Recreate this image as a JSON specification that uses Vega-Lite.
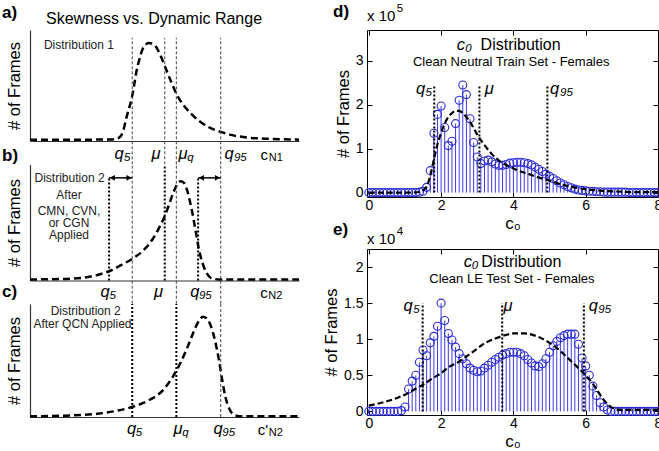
{
"$schema": "https://vega.github.io/schema/vega-lite/v6.json",
"padding": {"left": 2, "top": 2, "right": 0, "bottom": 0},
"config": {"view": {"stroke": null}, "font": "Liberation Sans", "title": {"font": "Liberation Sans", "color": "black"}},
"data": {"values": [
{"p":"a","k":"tag","x":-10.4,"y":115.3,"t":"a)"},{"p":"b","k":"tag","x":-10.4,"y":107.3,"t":"b)"},{"p":"c","k":"tag","x":-10.4,"y":110.6,"t":"c)"},{"p":"d","k":"tag","x":-0.99,"y":4.12,"t":"d)"},{"p":"e","k":"tag","x":-0.99,"y":2.51,"t":"e)"},
{"p":"a","k":"curve","x":0,"y":1.2},{"p":"a","k":"curve","x":10,"y":1.2},{"p":"a","k":"curve","x":20,"y":1.2},{"p":"a","k":"curve","x":30,"y":1.4},{"p":"a","k":"curve","x":33.1,"y":2.9},{"p":"a","k":"curve","x":34.6,"y":8.8},{"p":"a","k":"curve","x":35.8,"y":20.6},{"p":"a","k":"curve","x":36.8,"y":29.4},{"p":"a","k":"curve","x":37.8,"y":38.2},{"p":"a","k":"curve","x":38.7,"y":50},{"p":"a","k":"curve","x":39.5,"y":61.8},{"p":"a","k":"curve","x":40.5,"y":72},{"p":"a","k":"curve","x":41.8,"y":82.4},{"p":"a","k":"curve","x":43,"y":86.8},{"p":"a","k":"curve","x":44.2,"y":88.2},{"p":"a","k":"curve","x":45.5,"y":87.6},{"p":"a","k":"curve","x":46.7,"y":85.3},{"p":"a","k":"curve","x":48.6,"y":76.5},{"p":"a","k":"curve","x":50.1,"y":67.6},{"p":"a","k":"curve","x":52.3,"y":54.4},{"p":"a","k":"curve","x":54.4,"y":42.6},{"p":"a","k":"curve","x":56.6,"y":33.8},{"p":"a","k":"curve","x":59.7,"y":25},{"p":"a","k":"curve","x":62.8,"y":18.2},{"p":"a","k":"curve","x":66.5,"y":12.4},{"p":"a","k":"curve","x":70.9,"y":8.2},{"p":"a","k":"curve","x":75.2,"y":5.3},{"p":"a","k":"curve","x":81.4,"y":2.9},{"p":"a","k":"curve","x":87.6,"y":2.1},{"p":"a","k":"curve","x":100,"y":1.2},
{"p":"a","k":"vref","x":38,"y":-21,"y2":93},{"p":"a","k":"vref","x":50.1,"y":-21,"y2":93},{"p":"a","k":"vref","x":54.4,"y":-21,"y2":93},{"p":"a","k":"vref","x":70.9,"y":-21,"y2":93},
{"p":"a","k":"head","x":46.1,"y":110,"t":"Skewness vs. Dynamic Range"},
{"p":"a","k":"note","x":18.2,"y":86.8,"t":"Distribution 1"},
{"p":"a","k":"sym","x":33.1,"y":-11.5,"t":"q"},{"p":"a","k":"sub","x":34.9,"y":-11.5,"t":"5"},
{"p":"a","k":"sym","x":46.8,"y":-11.5,"t":"μ"},
{"p":"a","k":"sym","x":56.9,"y":-11.5,"t":"μ"},{"p":"a","k":"sub","x":58.5,"y":-11.5,"t":"q"},
{"p":"a","k":"sym","x":74,"y":-11.5,"t":"q"},{"p":"a","k":"sub","x":75.8,"y":-11.5,"t":"95"},
{"p":"a","k":"var","x":87.1,"y":-11.5,"t":"c"},{"p":"a","k":"vsub","x":88.8,"y":-11.5,"t":"N1"},

{"p":"b","k":"curve","x":0,"y":0.9},{"p":"b","k":"curve","x":13.3,"y":1.4},{"p":"b","k":"curve","x":19.5,"y":2.3},{"p":"b","k":"curve","x":25.7,"y":5.2},{"p":"b","k":"curve","x":29.4,"y":8},{"p":"b","k":"curve","x":34.3,"y":13.8},{"p":"b","k":"curve","x":38,"y":18.7},{"p":"b","k":"curve","x":41.8,"y":25.3},{"p":"b","k":"curve","x":45.5,"y":35.3},{"p":"b","k":"curve","x":48,"y":45.4},{"p":"b","k":"curve","x":50.1,"y":55.5},{"p":"b","k":"curve","x":51.7,"y":65.5},{"p":"b","k":"curve","x":53.5,"y":77},{"p":"b","k":"curve","x":55.1,"y":84.2},{"p":"b","k":"curve","x":56.1,"y":85.6},{"p":"b","k":"curve","x":57.2,"y":84.2},{"p":"b","k":"curve","x":58.5,"y":77},{"p":"b","k":"curve","x":60.1,"y":61.2},{"p":"b","k":"curve","x":61.6,"y":42.5},{"p":"b","k":"curve","x":62.8,"y":26.7},{"p":"b","k":"curve","x":64.1,"y":15.2},{"p":"b","k":"curve","x":65.6,"y":6.6},{"p":"b","k":"curve","x":67.2,"y":2.3},{"p":"b","k":"curve","x":70.3,"y":0.9},{"p":"b","k":"curve","x":100,"y":0.9},
{"p":"b","k":"vref","x":38,"y":-20,"y2":100},{"p":"b","k":"vref","x":54.4,"y":-20,"y2":100},{"p":"b","k":"vref","x":70.9,"y":-20,"y2":100},
{"p":"b","k":"vq","x":50.1,"y":0,"y2":100},{"p":"b","k":"vq","x":29.4,"y":0,"y2":88.5},{"p":"b","k":"vq","x":62.5,"y":0,"y2":88.5},
{"p":"b","k":"arrow","x":29.4,"x2":38,"y":88.5},{"p":"b","k":"arrow","x":62.5,"x2":70.9,"y":88.5},
{"p":"b","k":"headL","x":30.6,"y":88.5},{"p":"b","k":"headR","x":36.8,"y":88.5},{"p":"b","k":"headL","x":63.7,"y":88.5},{"p":"b","k":"headR","x":69.7,"y":88.5},
{"p":"b","k":"note","x":14.7,"y":88.5,"t":"Distribution 2"},{"p":"b","k":"note","x":14.5,"y":74.1,"t":"After"},{"p":"b","k":"note","x":14.5,"y":59.8,"t":"CMN, CVN,"},{"p":"b","k":"note","x":14.5,"y":49.7,"t":"or CGN"},{"p":"b","k":"note","x":14.5,"y":38.8,"t":"Applied"},
{"p":"b","k":"sym","x":27.9,"y":-10.3,"t":"q"},{"p":"b","k":"sub","x":29.6,"y":-10.3,"t":"5"},
{"p":"b","k":"sym","x":47.8,"y":-10.3,"t":"μ"},
{"p":"b","k":"sym","x":61.3,"y":-10.3,"t":"q"},{"p":"b","k":"sub","x":62.8,"y":-10.3,"t":"95"},
{"p":"b","k":"var","x":87,"y":-10.3,"t":"c"},{"p":"b","k":"vsub","x":88.6,"y":-10.3,"t":"N2"},

{"p":"c","k":"curve","x":0,"y":0.6},{"p":"c","k":"curve","x":13.3,"y":1.2},{"p":"c","k":"curve","x":25.7,"y":3},{"p":"c","k":"curve","x":31.8,"y":5.3},{"p":"c","k":"curve","x":38,"y":8.9},{"p":"c","k":"curve","x":44.2,"y":14.8},{"p":"c","k":"curve","x":49.2,"y":23.1},{"p":"c","k":"curve","x":52.9,"y":34.9},{"p":"c","k":"curve","x":56,"y":48.2},{"p":"c","k":"curve","x":58.5,"y":61.5},{"p":"c","k":"curve","x":61,"y":76.3},{"p":"c","k":"curve","x":62.8,"y":85.2},{"p":"c","k":"curve","x":64.3,"y":88.8},{"p":"c","k":"curve","x":65.5,"y":87.6},{"p":"c","k":"curve","x":67.2,"y":80.8},{"p":"c","k":"curve","x":68.8,"y":67.5},{"p":"c","k":"curve","x":70.3,"y":49.7},{"p":"c","k":"curve","x":71.5,"y":32},{"p":"c","k":"curve","x":72.7,"y":17.2},{"p":"c","k":"curve","x":74.2,"y":6.8},{"p":"c","k":"curve","x":75.8,"y":1.8},{"p":"c","k":"curve","x":78.9,"y":0.6},{"p":"c","k":"curve","x":100,"y":0.6},
{"p":"c","k":"vq","x":38,"y":0,"y2":100},{"p":"c","k":"vq","x":54.4,"y":0,"y2":100},{"p":"c","k":"vref","x":70.9,"y":0,"y2":100},
{"p":"c","k":"note","x":20.7,"y":94.1,"t":"Distribution 2"},{"p":"c","k":"note","x":19.5,"y":82.2,"t":"After QCN Applied"},
{"p":"c","k":"sym","x":37.8,"y":-10.6,"t":"q"},{"p":"c","k":"sub","x":39.3,"y":-10.6,"t":"5"},
{"p":"c","k":"sym","x":55,"y":-10.6,"t":"μ"},{"p":"c","k":"sub","x":56.6,"y":-10.6,"t":"q"},
{"p":"c","k":"sym","x":69.9,"y":-10.6,"t":"q"},{"p":"c","k":"sub","x":71.5,"y":-10.6,"t":"95"},
{"p":"c","k":"var","x":86.6,"y":-10.6,"t":"c'"},{"p":"c","k":"vsub","x":88.8,"y":-10.6,"t":"N2"},

{"p":"d","k":"stem","x":0,"y":0},{"p":"d","k":"stem","x":0.1,"y":0},{"p":"d","k":"stem","x":0.2,"y":0},{"p":"d","k":"stem","x":0.3,"y":0},{"p":"d","k":"stem","x":0.4,"y":0},{"p":"d","k":"stem","x":0.5,"y":0},{"p":"d","k":"stem","x":0.6,"y":0},{"p":"d","k":"stem","x":0.7,"y":0},{"p":"d","k":"stem","x":0.8,"y":0},{"p":"d","k":"stem","x":0.9,"y":0},{"p":"d","k":"stem","x":1.0,"y":0},{"p":"d","k":"stem","x":1.1,"y":0},{"p":"d","k":"stem","x":1.2,"y":0},{"p":"d","k":"stem","x":1.3,"y":0},{"p":"d","k":"stem","x":1.4,"y":0.01},{"p":"d","k":"stem","x":1.5,"y":0.03},{"p":"d","k":"stem","x":1.6,"y":0.12},{"p":"d","k":"stem","x":1.7,"y":0.5},{"p":"d","k":"stem","x":1.8,"y":1.35},{"p":"d","k":"stem","x":1.9,"y":1.78},{"p":"d","k":"stem","x":2.0,"y":1.97},{"p":"d","k":"stem","x":2.1,"y":1.48},{"p":"d","k":"stem","x":2.2,"y":1.07},{"p":"d","k":"stem","x":2.3,"y":1.17},{"p":"d","k":"stem","x":2.4,"y":1.57},{"p":"d","k":"stem","x":2.5,"y":2.1},{"p":"d","k":"stem","x":2.6,"y":2.45},{"p":"d","k":"stem","x":2.7,"y":2.23},{"p":"d","k":"stem","x":2.8,"y":1.68},{"p":"d","k":"stem","x":2.9,"y":1.14},{"p":"d","k":"stem","x":3.0,"y":0.81},{"p":"d","k":"stem","x":3.1,"y":0.66},{"p":"d","k":"stem","x":3.2,"y":0.72},{"p":"d","k":"stem","x":3.3,"y":0.74},{"p":"d","k":"stem","x":3.4,"y":0.7},{"p":"d","k":"stem","x":3.5,"y":0.65},{"p":"d","k":"stem","x":3.6,"y":0.62},{"p":"d","k":"stem","x":3.7,"y":0.62},{"p":"d","k":"stem","x":3.8,"y":0.64},{"p":"d","k":"stem","x":3.9,"y":0.67},{"p":"d","k":"stem","x":4.0,"y":0.68},{"p":"d","k":"stem","x":4.1,"y":0.69},{"p":"d","k":"stem","x":4.2,"y":0.69},{"p":"d","k":"stem","x":4.3,"y":0.68},{"p":"d","k":"stem","x":4.4,"y":0.66},{"p":"d","k":"stem","x":4.5,"y":0.63},{"p":"d","k":"stem","x":4.6,"y":0.58},{"p":"d","k":"stem","x":4.7,"y":0.53},{"p":"d","k":"stem","x":4.8,"y":0.48},{"p":"d","k":"stem","x":4.9,"y":0.42},{"p":"d","k":"stem","x":5.0,"y":0.37},{"p":"d","k":"stem","x":5.1,"y":0.32},{"p":"d","k":"stem","x":5.2,"y":0.27},{"p":"d","k":"stem","x":5.3,"y":0.22},{"p":"d","k":"stem","x":5.4,"y":0.18},{"p":"d","k":"stem","x":5.5,"y":0.14},{"p":"d","k":"stem","x":5.6,"y":0.11},{"p":"d","k":"stem","x":5.7,"y":0.08},{"p":"d","k":"stem","x":5.8,"y":0.06},{"p":"d","k":"stem","x":5.9,"y":0.05},{"p":"d","k":"stem","x":6.0,"y":0.04},{"p":"d","k":"stem","x":6.1,"y":0.03},{"p":"d","k":"stem","x":6.2,"y":0.03},{"p":"d","k":"stem","x":6.3,"y":0.02},{"p":"d","k":"stem","x":6.4,"y":0.02},{"p":"d","k":"stem","x":6.5,"y":0.01},{"p":"d","k":"stem","x":6.6,"y":0.01},{"p":"d","k":"stem","x":6.7,"y":0.01},{"p":"d","k":"stem","x":6.8,"y":0.01},{"p":"d","k":"stem","x":6.9,"y":0.01},{"p":"d","k":"stem","x":7.0,"y":0.01},{"p":"d","k":"stem","x":7.1,"y":0.01},{"p":"d","k":"stem","x":7.2,"y":0},{"p":"d","k":"stem","x":7.3,"y":0},{"p":"d","k":"stem","x":7.4,"y":0},{"p":"d","k":"stem","x":7.5,"y":0},{"p":"d","k":"stem","x":7.6,"y":0},{"p":"d","k":"stem","x":7.7,"y":0},{"p":"d","k":"stem","x":7.8,"y":0},{"p":"d","k":"stem","x":7.9,"y":0},{"p":"d","k":"stem","x":8.0,"y":0},
{"p":"d","k":"curve","x":0,"y":0},{"p":"d","k":"curve","x":0.5,"y":0},{"p":"d","k":"curve","x":1.0,"y":0},{"p":"d","k":"curve","x":1.3,"y":0.005},{"p":"d","k":"curve","x":1.4,"y":0.02},{"p":"d","k":"curve","x":1.5,"y":0.05},{"p":"d","k":"curve","x":1.6,"y":0.14},{"p":"d","k":"curve","x":1.7,"y":0.38},{"p":"d","k":"curve","x":1.8,"y":0.75},{"p":"d","k":"curve","x":1.9,"y":1.1},{"p":"d","k":"curve","x":2.0,"y":1.36},{"p":"d","k":"curve","x":2.1,"y":1.57},{"p":"d","k":"curve","x":2.2,"y":1.72},{"p":"d","k":"curve","x":2.3,"y":1.81},{"p":"d","k":"curve","x":2.4,"y":1.86},{"p":"d","k":"curve","x":2.5,"y":1.86},{"p":"d","k":"curve","x":2.6,"y":1.81},{"p":"d","k":"curve","x":2.7,"y":1.72},{"p":"d","k":"curve","x":2.8,"y":1.61},{"p":"d","k":"curve","x":2.9,"y":1.47},{"p":"d","k":"curve","x":3.0,"y":1.32},{"p":"d","k":"curve","x":3.2,"y":1.08},{"p":"d","k":"curve","x":3.4,"y":0.88},{"p":"d","k":"curve","x":3.6,"y":0.73},{"p":"d","k":"curve","x":3.8,"y":0.63},{"p":"d","k":"curve","x":4.0,"y":0.55},{"p":"d","k":"curve","x":4.2,"y":0.48},{"p":"d","k":"curve","x":4.4,"y":0.43},{"p":"d","k":"curve","x":4.6,"y":0.37},{"p":"d","k":"curve","x":4.8,"y":0.32},{"p":"d","k":"curve","x":5.0,"y":0.27},{"p":"d","k":"curve","x":5.2,"y":0.22},{"p":"d","k":"curve","x":5.4,"y":0.17},{"p":"d","k":"curve","x":5.6,"y":0.13},{"p":"d","k":"curve","x":5.8,"y":0.1},{"p":"d","k":"curve","x":6.0,"y":0.08},{"p":"d","k":"curve","x":6.2,"y":0.06},{"p":"d","k":"curve","x":6.5,"y":0.04},{"p":"d","k":"curve","x":7.0,"y":0.02},{"p":"d","k":"curve","x":7.5,"y":0.01},{"p":"d","k":"curve","x":8.0,"y":0.01},
{"p":"d","k":"vq","x":1.81,"y":0,"y2":2.45},{"p":"d","k":"vq","x":3.06,"y":0,"y2":2.45},{"p":"d","k":"vq","x":4.94,"y":0,"y2":2.45},
{"p":"d","k":"exp","x":-0.05,"y":4.02,"t":"x 10"},{"p":"d","k":"sup","x":0.77,"y":4.17,"t":"5"},
{"p":"d","k":"sym","x":2.55,"y":3.36,"t":"c"},{"p":"d","k":"sub","x":2.67,"y":3.36,"t":"0"},{"p":"d","k":"head","x":4.2,"y":3.36,"t":"Distribution"},
{"p":"d","k":"subhead","x":3.94,"y":2.97,"t":"Clean Neutral Train Set - Females"},
{"p":"d","k":"sym","x":1.43,"y":2.36,"t":"q"},{"p":"d","k":"sub","x":1.57,"y":2.36,"t":"5"},
{"p":"d","k":"sym","x":3.33,"y":2.36,"t":"μ"},
{"p":"d","k":"sym","x":5.14,"y":2.36,"t":"q"},{"p":"d","k":"sub","x":5.29,"y":2.36,"t":"95"},

{"p":"e","k":"stem","x":0,"y":0},{"p":"e","k":"stem","x":0.1,"y":0},{"p":"e","k":"stem","x":0.2,"y":0},{"p":"e","k":"stem","x":0.3,"y":0},{"p":"e","k":"stem","x":0.4,"y":0},{"p":"e","k":"stem","x":0.5,"y":0},{"p":"e","k":"stem","x":0.6,"y":0},{"p":"e","k":"stem","x":0.7,"y":0},{"p":"e","k":"stem","x":0.8,"y":0},{"p":"e","k":"stem","x":0.9,"y":0.01},{"p":"e","k":"stem","x":1.0,"y":0.06},{"p":"e","k":"stem","x":1.1,"y":0.31},{"p":"e","k":"stem","x":1.2,"y":0.42},{"p":"e","k":"stem","x":1.3,"y":0.5},{"p":"e","k":"stem","x":1.4,"y":0.68},{"p":"e","k":"stem","x":1.5,"y":0.85},{"p":"e","k":"stem","x":1.6,"y":0.77},{"p":"e","k":"stem","x":1.7,"y":0.95},{"p":"e","k":"stem","x":1.8,"y":1.04},{"p":"e","k":"stem","x":1.9,"y":1.18},{"p":"e","k":"stem","x":2.0,"y":1.5},{"p":"e","k":"stem","x":2.1,"y":1.26},{"p":"e","k":"stem","x":2.2,"y":1.08},{"p":"e","k":"stem","x":2.3,"y":0.99},{"p":"e","k":"stem","x":2.4,"y":0.89},{"p":"e","k":"stem","x":2.5,"y":0.8},{"p":"e","k":"stem","x":2.6,"y":0.73},{"p":"e","k":"stem","x":2.7,"y":0.66},{"p":"e","k":"stem","x":2.8,"y":0.6},{"p":"e","k":"stem","x":2.9,"y":0.57},{"p":"e","k":"stem","x":3.0,"y":0.55},{"p":"e","k":"stem","x":3.1,"y":0.56},{"p":"e","k":"stem","x":3.2,"y":0.6},{"p":"e","k":"stem","x":3.3,"y":0.64},{"p":"e","k":"stem","x":3.4,"y":0.68},{"p":"e","k":"stem","x":3.5,"y":0.72},{"p":"e","k":"stem","x":3.6,"y":0.75},{"p":"e","k":"stem","x":3.7,"y":0.78},{"p":"e","k":"stem","x":3.8,"y":0.8},{"p":"e","k":"stem","x":3.9,"y":0.82},{"p":"e","k":"stem","x":4.0,"y":0.82},{"p":"e","k":"stem","x":4.1,"y":0.82},{"p":"e","k":"stem","x":4.2,"y":0.8},{"p":"e","k":"stem","x":4.3,"y":0.77},{"p":"e","k":"stem","x":4.4,"y":0.72},{"p":"e","k":"stem","x":4.5,"y":0.67},{"p":"e","k":"stem","x":4.6,"y":0.63},{"p":"e","k":"stem","x":4.7,"y":0.62},{"p":"e","k":"stem","x":4.8,"y":0.66},{"p":"e","k":"stem","x":4.9,"y":0.73},{"p":"e","k":"stem","x":5.0,"y":0.82},{"p":"e","k":"stem","x":5.1,"y":0.91},{"p":"e","k":"stem","x":5.2,"y":0.97},{"p":"e","k":"stem","x":5.3,"y":1.02},{"p":"e","k":"stem","x":5.4,"y":1.05},{"p":"e","k":"stem","x":5.5,"y":1.07},{"p":"e","k":"stem","x":5.6,"y":1.07},{"p":"e","k":"stem","x":5.7,"y":1.07},{"p":"e","k":"stem","x":5.8,"y":0.93},{"p":"e","k":"stem","x":5.9,"y":0.74},{"p":"e","k":"stem","x":6.0,"y":0.63},{"p":"e","k":"stem","x":6.1,"y":0.5},{"p":"e","k":"stem","x":6.2,"y":0.35},{"p":"e","k":"stem","x":6.3,"y":0.22},{"p":"e","k":"stem","x":6.4,"y":0.12},{"p":"e","k":"stem","x":6.5,"y":0.06},{"p":"e","k":"stem","x":6.6,"y":0.02},{"p":"e","k":"stem","x":6.7,"y":0},{"p":"e","k":"stem","x":6.8,"y":0},{"p":"e","k":"stem","x":6.9,"y":0},{"p":"e","k":"stem","x":7.0,"y":0},{"p":"e","k":"stem","x":7.1,"y":0},{"p":"e","k":"stem","x":7.2,"y":0},{"p":"e","k":"stem","x":7.3,"y":0},{"p":"e","k":"stem","x":7.4,"y":0},{"p":"e","k":"stem","x":7.5,"y":0},{"p":"e","k":"stem","x":7.6,"y":0},{"p":"e","k":"stem","x":7.7,"y":0},{"p":"e","k":"stem","x":7.8,"y":0},{"p":"e","k":"stem","x":7.9,"y":0},{"p":"e","k":"stem","x":8.0,"y":0},
{"p":"e","k":"curve","x":0,"y":0.08},{"p":"e","k":"curve","x":0.5,"y":0.14},{"p":"e","k":"curve","x":0.8,"y":0.19},{"p":"e","k":"curve","x":1.0,"y":0.23},{"p":"e","k":"curve","x":1.28,"y":0.31},{"p":"e","k":"curve","x":1.5,"y":0.37},{"p":"e","k":"curve","x":1.74,"y":0.45},{"p":"e","k":"curve","x":2.0,"y":0.53},{"p":"e","k":"curve","x":2.2,"y":0.61},{"p":"e","k":"curve","x":2.5,"y":0.69},{"p":"e","k":"curve","x":2.67,"y":0.75},{"p":"e","k":"curve","x":3.0,"y":0.87},{"p":"e","k":"curve","x":3.13,"y":0.92},{"p":"e","k":"curve","x":3.5,"y":1.01},{"p":"e","k":"curve","x":3.8,"y":1.06},{"p":"e","k":"curve","x":4.0,"y":1.08},{"p":"e","k":"curve","x":4.3,"y":1.08},{"p":"e","k":"curve","x":4.7,"y":1.03},{"p":"e","k":"curve","x":5.0,"y":0.95},{"p":"e","k":"curve","x":5.17,"y":0.89},{"p":"e","k":"curve","x":5.4,"y":0.79},{"p":"e","k":"curve","x":5.63,"y":0.68},{"p":"e","k":"curve","x":6.0,"y":0.5},{"p":"e","k":"curve","x":6.2,"y":0.38},{"p":"e","k":"curve","x":6.37,"y":0.25},{"p":"e","k":"curve","x":6.5,"y":0.16},{"p":"e","k":"curve","x":6.65,"y":0.08},{"p":"e","k":"curve","x":6.83,"y":0.03},{"p":"e","k":"curve","x":7.0,"y":0.02},{"p":"e","k":"curve","x":8.0,"y":0.02},
{"p":"e","k":"vq","x":1.49,"y":0,"y2":1.5},{"p":"e","k":"vq","x":3.69,"y":0,"y2":1.5},{"p":"e","k":"vq","x":5.95,"y":0,"y2":1.5},
{"p":"e","k":"exp","x":-0.05,"y":2.39,"t":"x 10"},{"p":"e","k":"sup","x":0.77,"y":2.49,"t":"4"},
{"p":"e","k":"sym","x":2.74,"y":2.07,"t":"c"},{"p":"e","k":"sub","x":2.85,"y":2.07,"t":"0"},{"p":"e","k":"head","x":4.22,"y":2.07,"t":"Distribution"},
{"p":"e","k":"subhead","x":3.96,"y":1.84,"t":"Clean LE Test Set - Females"},
{"p":"e","k":"sym","x":1.09,"y":1.46,"t":"q"},{"p":"e","k":"sub","x":1.23,"y":1.46,"t":"5"},
{"p":"e","k":"sym","x":3.85,"y":1.46,"t":"μ"},
{"p":"e","k":"sym","x":6.21,"y":1.46,"t":"q"},{"p":"e","k":"sub","x":6.35,"y":1.46,"t":"95"}
]},
"hconcat": [
{"vconcat": [
 {"width": 269, "height": 111,
  "transform": [{"filter": "datum.p == 'a'"}],
  "resolve": {"axis": {"x": "independent", "y": "independent"}},
  "encoding": {
   "x": {"field": "x", "type": "quantitative", "scale": {"domain": [0,100], "nice": false, "zero": false}, "axis": null},
   "y": {"field": "y", "type": "quantitative", "scale": {"domain": [0,100], "nice": false, "zero": false}, "axis": null}},
  "layer": [
   {"transform": [{"filter": "datum.k == 'curve'"}],
    "mark": {"type": "line", "color": "black", "strokeWidth": 2.5, "strokeDash": [7,4], "interpolate": "monotone"},
    "encoding": {
     "x": {"field": "x", "type": "quantitative", "scale": {"domain": [0,100], "nice": false, "zero": false}, "axis": {"orient": "bottom", "domainColor": "#333", "domainWidth": 1.2, "ticks": false, "labels": false, "grid": false, "title": null}},
     "y": {"field": "y", "type": "quantitative", "scale": {"domain": [0,100], "nice": false, "zero": false}, "axis": {"orient": "left", "domainColor": "#333", "domainWidth": 1.2, "ticks": false, "labels": false, "grid": false, "title": "# of Frames", "titleFontSize": 16.5, "titleFontWeight": "normal", "titleColor": "black", "titlePadding": 8}}}},
   {"transform": [{"filter": "datum.k == 'vref'"}], "mark": {"type": "rule", "color": "#444", "strokeWidth": 1, "strokeDash": [3,2]}, "encoding": {"y2": {"field": "y2"}}},
   {"transform": [{"filter": "datum.k == 'tag'"}], "mark": {"type": "text", "fontSize": 17, "fontWeight": "bold", "align": "left", "baseline": "middle", "color": "black"}, "encoding": {"text": {"field": "t"}}},
   {"transform": [{"filter": "datum.k == 'head'"}], "mark": {"type": "text", "fontSize": 16, "align": "center", "baseline": "middle", "color": "black"}, "encoding": {"text": {"field": "t"}}},
   {"transform": [{"filter": "datum.k == 'note'"}], "mark": {"type": "text", "fontSize": 12, "align": "center", "baseline": "middle", "color": "#222"}, "encoding": {"text": {"field": "t"}}},
   {"transform": [{"filter": "datum.k == 'sym'"}], "mark": {"type": "text", "fontSize": 16.5, "fontStyle": "italic", "align": "center", "baseline": "middle", "color": "black"}, "encoding": {"text": {"field": "t"}}},
   {"transform": [{"filter": "datum.k == 'sub'"}], "mark": {"type": "text", "fontSize": 11.5, "fontStyle": "italic", "align": "left", "baseline": "middle", "dy": 4, "color": "black"}, "encoding": {"text": {"field": "t"}}},
   {"transform": [{"filter": "datum.k == 'var'"}], "mark": {"type": "text", "fontSize": 15, "align": "center", "baseline": "middle", "dy": 1, "color": "black"}, "encoding": {"text": {"field": "t"}}},
   {"transform": [{"filter": "datum.k == 'vsub'"}], "mark": {"type": "text", "fontSize": 11, "align": "left", "baseline": "middle", "dy": 4, "color": "black"}, "encoding": {"text": {"field": "t"}}}
  ]},
 {"width": 269, "height": 116,
  "transform": [{"filter": "datum.p == 'b'"}],
  "resolve": {"axis": {"x": "independent", "y": "independent"}},
  "encoding": {
   "x": {"field": "x", "type": "quantitative", "scale": {"domain": [0,100], "nice": false, "zero": false}, "axis": null},
   "y": {"field": "y", "type": "quantitative", "scale": {"domain": [0,100], "nice": false, "zero": false}, "axis": null}},
  "layer": [
   {"transform": [{"filter": "datum.k == 'curve'"}],
    "mark": {"type": "line", "color": "black", "strokeWidth": 2.5, "strokeDash": [7,4], "interpolate": "monotone"},
    "encoding": {
     "x": {"field": "x", "type": "quantitative", "scale": {"domain": [0,100], "nice": false, "zero": false}, "axis": {"orient": "bottom", "domainColor": "#333", "domainWidth": 1.2, "ticks": false, "labels": false, "grid": false, "title": null}},
     "y": {"field": "y", "type": "quantitative", "scale": {"domain": [0,100], "nice": false, "zero": false}, "axis": {"orient": "left", "domainColor": "#333", "domainWidth": 1.2, "ticks": false, "labels": false, "grid": false, "title": "# of Frames", "titleFontSize": 16.5, "titleFontWeight": "normal", "titleColor": "black", "titlePadding": 8}}}},
   {"transform": [{"filter": "datum.k == 'vref'"}], "mark": {"type": "rule", "color": "#444", "strokeWidth": 1, "strokeDash": [3,2]}, "encoding": {"y2": {"field": "y2"}}},
   {"transform": [{"filter": "datum.k == 'vq'"}], "mark": {"type": "rule", "color": "black", "strokeWidth": 2, "strokeDash": [2,2]}, "encoding": {"y2": {"field": "y2"}}},
   {"transform": [{"filter": "datum.k == 'arrow'"}], "mark": {"type": "rule", "color": "black", "strokeWidth": 1.5}, "encoding": {"x2": {"field": "x2"}}},
   {"transform": [{"filter": "datum.k == 'headL'"}], "mark": {"type": "point", "shape": "triangle-left", "filled": true, "color": "black", "size": 35, "opacity": 1}},
   {"transform": [{"filter": "datum.k == 'headR'"}], "mark": {"type": "point", "shape": "triangle-right", "filled": true, "color": "black", "size": 35, "opacity": 1}},
   {"transform": [{"filter": "datum.k == 'tag'"}], "mark": {"type": "text", "fontSize": 17, "fontWeight": "bold", "align": "left", "baseline": "middle", "color": "black"}, "encoding": {"text": {"field": "t"}}},
   {"transform": [{"filter": "datum.k == 'note'"}], "mark": {"type": "text", "fontSize": 12, "align": "center", "baseline": "middle", "color": "#222"}, "encoding": {"text": {"field": "t"}}},
   {"transform": [{"filter": "datum.k == 'sym'"}], "mark": {"type": "text", "fontSize": 16.5, "fontStyle": "italic", "align": "center", "baseline": "middle", "color": "black"}, "encoding": {"text": {"field": "t"}}},
   {"transform": [{"filter": "datum.k == 'sub'"}], "mark": {"type": "text", "fontSize": 11.5, "fontStyle": "italic", "align": "left", "baseline": "middle", "dy": 4, "color": "black"}, "encoding": {"text": {"field": "t"}}},
   {"transform": [{"filter": "datum.k == 'var'"}], "mark": {"type": "text", "fontSize": 15, "align": "center", "baseline": "middle", "dy": 1, "color": "black"}, "encoding": {"text": {"field": "t"}}},
   {"transform": [{"filter": "datum.k == 'vsub'"}], "mark": {"type": "text", "fontSize": 11, "align": "left", "baseline": "middle", "dy": 4, "color": "black"}, "encoding": {"text": {"field": "t"}}}
  ]},
 {"width": 269, "height": 113,
  "transform": [{"filter": "datum.p == 'c'"}],
  "resolve": {"axis": {"x": "independent", "y": "independent"}},
  "encoding": {
   "x": {"field": "x", "type": "quantitative", "scale": {"domain": [0,100], "nice": false, "zero": false}, "axis": null},
   "y": {"field": "y", "type": "quantitative", "scale": {"domain": [0,100], "nice": false, "zero": false}, "axis": null}},
  "layer": [
   {"transform": [{"filter": "datum.k == 'curve'"}],
    "mark": {"type": "line", "color": "black", "strokeWidth": 2.5, "strokeDash": [7,4], "interpolate": "monotone"},
    "encoding": {
     "x": {"field": "x", "type": "quantitative", "scale": {"domain": [0,100], "nice": false, "zero": false}, "axis": {"orient": "bottom", "domainColor": "#333", "domainWidth": 1.2, "ticks": false, "labels": false, "grid": false, "title": null}},
     "y": {"field": "y", "type": "quantitative", "scale": {"domain": [0,100], "nice": false, "zero": false}, "axis": {"orient": "left", "domainColor": "#333", "domainWidth": 1.2, "ticks": false, "labels": false, "grid": false, "title": "# of Frames", "titleFontSize": 16.5, "titleFontWeight": "normal", "titleColor": "black", "titlePadding": 8}}}},
   {"transform": [{"filter": "datum.k == 'vref'"}], "mark": {"type": "rule", "color": "#444", "strokeWidth": 1, "strokeDash": [3,2]}, "encoding": {"y2": {"field": "y2"}}},
   {"transform": [{"filter": "datum.k == 'vq'"}], "mark": {"type": "rule", "color": "black", "strokeWidth": 2, "strokeDash": [2,2]}, "encoding": {"y2": {"field": "y2"}}},
   {"transform": [{"filter": "datum.k == 'tag'"}], "mark": {"type": "text", "fontSize": 17, "fontWeight": "bold", "align": "left", "baseline": "middle", "color": "black"}, "encoding": {"text": {"field": "t"}}},
   {"transform": [{"filter": "datum.k == 'note'"}], "mark": {"type": "text", "fontSize": 12, "align": "center", "baseline": "middle", "color": "#222"}, "encoding": {"text": {"field": "t"}}},
   {"transform": [{"filter": "datum.k == 'sym'"}], "mark": {"type": "text", "fontSize": 16.5, "fontStyle": "italic", "align": "center", "baseline": "middle", "color": "black"}, "encoding": {"text": {"field": "t"}}},
   {"transform": [{"filter": "datum.k == 'sub'"}], "mark": {"type": "text", "fontSize": 11.5, "fontStyle": "italic", "align": "left", "baseline": "middle", "dy": 4, "color": "black"}, "encoding": {"text": {"field": "t"}}},
   {"transform": [{"filter": "datum.k == 'var'"}], "mark": {"type": "text", "fontSize": 15, "align": "center", "baseline": "middle", "dy": 1, "color": "black"}, "encoding": {"text": {"field": "t"}}},
   {"transform": [{"filter": "datum.k == 'vsub'"}], "mark": {"type": "text", "fontSize": 11, "align": "left", "baseline": "middle", "dy": 4, "color": "black"}, "encoding": {"text": {"field": "t"}}}
  ]}
], "spacing": 23.5, "bounds": "flush"},
{"vconcat": [
 {"width": 291, "height": 167,
  "transform": [{"filter": "datum.p == 'd'"}],
  "resolve": {"axis": {"x": "independent", "y": "independent"}},
  "encoding": {
   "x": {"field": "x", "type": "quantitative", "scale": {"domain": [-0.05,8], "nice": false, "zero": false}, "axis": null},
   "y": {"field": "y", "type": "quantitative", "scale": {"domain": [-0.1,3.7], "nice": false, "zero": false}, "axis": null}},
  "layer": [
   {"transform": [{"filter": "datum.k == 'stem'"}], "mark": {"type": "rule", "color": "#3c3ce6", "strokeWidth": 1},
    "encoding": {
     "x": {"field": "x", "type": "quantitative", "scale": {"domain": [-0.05,8], "nice": false, "zero": false}, "axis": {"orient": "bottom", "values": [0,2,4,6,8], "tickSize": -5, "tickColor": "black", "domainColor": "black", "labelFontSize": 14, "labelColor": "black", "labelPadding": 6, "labelFlush": false, "grid": false, "title": "c₀", "titleFontSize": 17, "titleFontWeight": "normal", "titleColor": "black", "titlePadding": 3}},
     "y": {"field": "y", "type": "quantitative", "scale": {"domain": [-0.1,3.7], "nice": false, "zero": false}, "axis": {"orient": "left", "values": [0,1,2,3], "format": "~g", "tickSize": -5, "tickColor": "black", "domainColor": "black", "labelFontSize": 14, "labelColor": "black", "labelPadding": 9, "grid": false, "title": "# of Frames", "titleFontSize": 16.5, "titleFontWeight": "normal", "titleColor": "black", "titlePadding": 4}},
     "y2": {"datum": 0}}},
   {"transform": [{"filter": "datum.k == 'stem'"}], "mark": {"type": "point", "shape": "circle", "filled": false, "size": 64, "color": "#2a2ad8", "strokeWidth": 1.1, "opacity": 1},
    "encoding": {
     "x": {"field": "x", "type": "quantitative", "scale": {"domain": [-0.05,8], "nice": false, "zero": false}, "axis": {"orient": "top", "values": [0,2,4,6,8], "tickSize": -5, "tickColor": "black", "domainColor": "black", "labels": false, "grid": false, "title": null}},
     "y": {"field": "y", "type": "quantitative", "scale": {"domain": [-0.1,3.7], "nice": false, "zero": false}, "axis": {"orient": "right", "values": [0,1,2,3], "tickSize": -5, "tickColor": "black", "domainColor": "black", "labels": false, "grid": false, "title": null}}}},
   {"transform": [{"filter": "datum.k == 'curve'"}], "mark": {"type": "line", "color": "black", "strokeWidth": 2.2, "strokeDash": [6,3], "interpolate": "monotone"}},
   {"transform": [{"filter": "datum.k == 'vq'"}], "mark": {"type": "rule", "color": "black", "strokeWidth": 2, "strokeDash": [2,2]}, "encoding": {"y2": {"field": "y2"}}},
   {"transform": [{"filter": "datum.k == 'tag'"}], "mark": {"type": "text", "fontSize": 17, "fontWeight": "bold", "align": "left", "baseline": "middle", "color": "black"}, "encoding": {"text": {"field": "t"}}},
   {"transform": [{"filter": "datum.k == 'exp'"}], "mark": {"type": "text", "fontSize": 15, "align": "left", "baseline": "middle", "color": "black"}, "encoding": {"text": {"field": "t"}}},
   {"transform": [{"filter": "datum.k == 'sup'"}], "mark": {"type": "text", "fontSize": 11.5, "align": "left", "baseline": "middle", "color": "black"}, "encoding": {"text": {"field": "t"}}},
   {"transform": [{"filter": "datum.k == 'head'"}], "mark": {"type": "text", "fontSize": 16, "align": "center", "baseline": "middle", "color": "black"}, "encoding": {"text": {"field": "t"}}},
   {"transform": [{"filter": "datum.k == 'subhead'"}], "mark": {"type": "text", "fontSize": 13, "align": "center", "baseline": "middle", "color": "black"}, "encoding": {"text": {"field": "t"}}},
   {"transform": [{"filter": "datum.k == 'sym'"}], "mark": {"type": "text", "fontSize": 16.5, "fontStyle": "italic", "align": "center", "baseline": "middle", "color": "black"}, "encoding": {"text": {"field": "t"}}},
   {"transform": [{"filter": "datum.k == 'sub'"}], "mark": {"type": "text", "fontSize": 11.5, "fontStyle": "italic", "align": "left", "baseline": "middle", "dy": 4, "color": "black"}, "encoding": {"text": {"field": "t"}}}
  ]},
 {"width": 291, "height": 166,
  "transform": [{"filter": "datum.p == 'e'"}],
  "resolve": {"axis": {"x": "independent", "y": "independent"}},
  "encoding": {
   "x": {"field": "x", "type": "quantitative", "scale": {"domain": [-0.05,8], "nice": false, "zero": false}, "axis": null},
   "y": {"field": "y", "type": "quantitative", "scale": {"domain": [-0.05,2.25], "nice": false, "zero": false}, "axis": null}},
  "layer": [
   {"transform": [{"filter": "datum.k == 'stem'"}], "mark": {"type": "rule", "color": "#3c3ce6", "strokeWidth": 1},
    "encoding": {
     "x": {"field": "x", "type": "quantitative", "scale": {"domain": [-0.05,8], "nice": false, "zero": false}, "axis": {"orient": "bottom", "values": [0,2,4,6,8], "tickSize": -5, "tickColor": "black", "domainColor": "black", "labelFontSize": 14, "labelColor": "black", "labelPadding": 6, "labelFlush": false, "grid": false, "title": "c₀", "titleFontSize": 17, "titleFontWeight": "normal", "titleColor": "black", "titlePadding": 3}},
     "y": {"field": "y", "type": "quantitative", "scale": {"domain": [-0.05,2.25], "nice": false, "zero": false}, "axis": {"orient": "left", "values": [0,0.5,1,1.5,2], "format": "~g", "tickSize": -5, "tickColor": "black", "domainColor": "black", "labelFontSize": 14, "labelColor": "black", "labelPadding": 9, "grid": false, "title": "# of Frames", "titleFontSize": 16.5, "titleFontWeight": "normal", "titleColor": "black", "titlePadding": 4}},
     "y2": {"datum": 0}}},
   {"transform": [{"filter": "datum.k == 'stem'"}], "mark": {"type": "point", "shape": "circle", "filled": false, "size": 64, "color": "#2a2ad8", "strokeWidth": 1.1, "opacity": 1},
    "encoding": {
     "x": {"field": "x", "type": "quantitative", "scale": {"domain": [-0.05,8], "nice": false, "zero": false}, "axis": {"orient": "top", "values": [0,2,4,6,8], "tickSize": -5, "tickColor": "black", "domainColor": "black", "labels": false, "grid": false, "title": null}},
     "y": {"field": "y", "type": "quantitative", "scale": {"domain": [-0.05,2.25], "nice": false, "zero": false}, "axis": {"orient": "right", "values": [0,0.5,1,1.5,2], "tickSize": -5, "tickColor": "black", "domainColor": "black", "labels": false, "grid": false, "title": null}}}},
   {"transform": [{"filter": "datum.k == 'curve'"}], "mark": {"type": "line", "color": "black", "strokeWidth": 2.2, "strokeDash": [6,3], "interpolate": "monotone"}},
   {"transform": [{"filter": "datum.k == 'vq'"}], "mark": {"type": "rule", "color": "black", "strokeWidth": 2, "strokeDash": [2,2]}, "encoding": {"y2": {"field": "y2"}}},
   {"transform": [{"filter": "datum.k == 'tag'"}], "mark": {"type": "text", "fontSize": 17, "fontWeight": "bold", "align": "left", "baseline": "middle", "color": "black"}, "encoding": {"text": {"field": "t"}}},
   {"transform": [{"filter": "datum.k == 'exp'"}], "mark": {"type": "text", "fontSize": 15, "align": "left", "baseline": "middle", "color": "black"}, "encoding": {"text": {"field": "t"}}},
   {"transform": [{"filter": "datum.k == 'sup'"}], "mark": {"type": "text", "fontSize": 11.5, "align": "left", "baseline": "middle", "color": "black"}, "encoding": {"text": {"field": "t"}}},
   {"transform": [{"filter": "datum.k == 'head'"}], "mark": {"type": "text", "fontSize": 16, "align": "center", "baseline": "middle", "color": "black"}, "encoding": {"text": {"field": "t"}}},
   {"transform": [{"filter": "datum.k == 'subhead'"}], "mark": {"type": "text", "fontSize": 13, "align": "center", "baseline": "middle", "color": "black"}, "encoding": {"text": {"field": "t"}}},
   {"transform": [{"filter": "datum.k == 'sym'"}], "mark": {"type": "text", "fontSize": 16.5, "fontStyle": "italic", "align": "center", "baseline": "middle", "color": "black"}, "encoding": {"text": {"field": "t"}}},
   {"transform": [{"filter": "datum.k == 'sub'"}], "mark": {"type": "text", "fontSize": 11.5, "fontStyle": "italic", "align": "left", "baseline": "middle", "dy": 4, "color": "black"}, "encoding": {"text": {"field": "t"}}}
  ]}
], "spacing": 52, "bounds": "flush"}
],
"spacing": 19
}
